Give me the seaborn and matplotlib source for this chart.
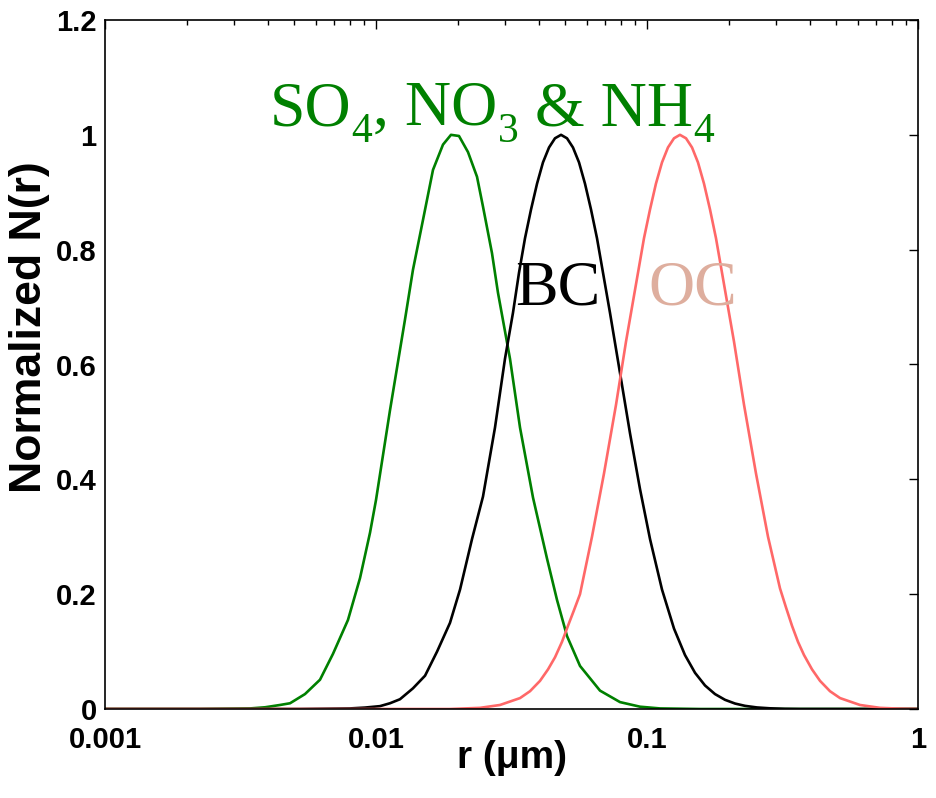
import numpy as np
import pandas as pd
import matplotlib
matplotlib.use("Agg")
import matplotlib.pyplot as plt
from matplotlib.ticker import FixedLocator, LogLocator, NullFormatter, NullLocator
import seaborn as sns

# ---- data ----
green_r = [0.001, 0.002242, 0.003429, 0.003895, 0.004423, 0.004817, 0.005470, 0.006214,
           0.006938, 0.007880, 0.008730, 0.009504, 0.0100, 0.01126, 0.01279, 0.01369,
           0.01491, 0.01623, 0.01767, 0.01891, 0.02024, 0.02185, 0.02359, 0.02482,
           0.02679, 0.02819, 0.03122, 0.03400, 0.03797, 0.04276, 0.04655, 0.05068,
           0.05660, 0.06708, 0.07952, 0.09423, 0.1117, 0.1569, 0.3669, 1.0]
green_n = [0.0, 0.0, 0.001, 0.003, 0.007, 0.010, 0.026, 0.051,
           0.096, 0.155, 0.228, 0.307, 0.364, 0.52, 0.678, 0.765,
           0.852, 0.939, 0.983, 1.0, 0.998, 0.970, 0.927, 0.875,
           0.794, 0.725, 0.61, 0.49, 0.368, 0.262, 0.190, 0.127,
           0.075, 0.032, 0.012, 0.004, 0.001, 0.0, 0.0, 0.0]

black_r = [0.001, 0.005243, 0.008016, 0.009107, 0.01035, 0.01126, 0.01226, 0.01369,
           0.01517, 0.01680, 0.01875, 0.02042, 0.02261, 0.02482, 0.02748, 0.02992,
           0.03202, 0.03371, 0.03547, 0.03733, 0.03929, 0.04132, 0.04350, 0.04576,
           0.04817, 0.05068, 0.05331, 0.05612, 0.05904, 0.06214, 0.06538, 0.06880,
           0.07302, 0.07952, 0.08657, 0.09423, 0.1026, 0.1136, 0.1258, 0.1381,
           0.1504, 0.1637, 0.1782, 0.1940, 0.2113, 0.2299, 0.2546, 0.2843,
           0.3229, 0.3669, 1.0]
black_n = [0.0, 0.0, 0.001, 0.0025, 0.005, 0.010, 0.017, 0.036,
           0.058, 0.10, 0.15, 0.208, 0.296, 0.37, 0.49, 0.61,
           0.69, 0.76, 0.82, 0.87, 0.915, 0.952, 0.978, 0.994,
           1.0, 0.994, 0.978, 0.952, 0.915, 0.87, 0.82, 0.76,
           0.69, 0.585, 0.48, 0.383, 0.296, 0.208, 0.14, 0.094,
           0.063, 0.041, 0.026, 0.016, 0.0095, 0.0055, 0.0027, 0.0012,
           0.0003, 0.0, 0.0]

red_r = [0.001, 0.01226, 0.01875, 0.02420, 0.02868, 0.03400, 0.03701, 0.04029,
         0.04313, 0.04576, 0.04857, 0.05111, 0.05377, 0.05660, 0.06266, 0.06938,
         0.07686, 0.08367, 0.09265, 0.09748, 0.1026, 0.1079, 0.1136, 0.1195,
         0.1258, 0.1323, 0.1393, 0.1466, 0.1542, 0.1623, 0.1708, 0.1797,
         0.1891, 0.2094, 0.2280, 0.2525, 0.2796, 0.3096, 0.3257, 0.3428,
         0.3607, 0.3796, 0.4064, 0.4350, 0.4734, 0.5156, 0.6109, 0.7241,
         0.8582, 1.0]
red_n = [0.0, 0.0, 0.0, 0.002, 0.007, 0.019, 0.031, 0.049,
         0.069, 0.090, 0.117, 0.145, 0.172, 0.20, 0.30, 0.41,
         0.53, 0.64, 0.76, 0.82, 0.87, 0.915, 0.952, 0.978,
         0.994, 1.0, 0.994, 0.978, 0.952, 0.915, 0.87, 0.82,
         0.76, 0.64, 0.53, 0.41, 0.30, 0.21, 0.177, 0.145,
         0.117, 0.094, 0.069, 0.049, 0.031, 0.019, 0.007, 0.002,
         0.0006, 0.0]

x_ticks = [0.001, 0.01, 0.1, 1]
x_tick_labels = ["0.001", "0.01", "0.1", "1"]
y_ticks = [0, 0.2, 0.4, 0.6, 0.8, 1.0, 1.2]
y_tick_labels = ["0", "0.2", "0.4", "0.6", "0.8", "1", "1.2"]

species_label = [("SO", False), ("4", True), (", NO", False), ("3", True),
                 (" & NH", False), ("4", True)]

colors = {"SO4": "#008000", "BC": "#000000", "OC": "#FF6868"}

df = pd.concat([
    pd.DataFrame({"r": green_r, "N": green_n, "species": "SO4"}),
    pd.DataFrame({"r": black_r, "N": black_n, "species": "BC"}),
    pd.DataFrame({"r": red_r, "N": red_n, "species": "OC"}),
], ignore_index=True)

sns.set_theme(style="white")
plt.rcParams["font.family"] = ["Liberation Sans", "DejaVu Sans"]

W, H = 936, 798
fig = plt.figure(figsize=(W / 100, H / 100), dpi=100)
ax = fig.add_axes([105 / W, 1 - 709 / H, (918 - 105) / W, (709 - 20) / H])

sns.lineplot(data=df, x="r", y="N", hue="species", palette=colors,
             estimator=None, sort=False, legend=False, linewidth=1.9, ax=ax)

ax.set_xscale("log")
ax.set_xlim(0.001, 1)
ax.set_ylim(0, 1.2)

ax.xaxis.set_major_locator(FixedLocator(x_ticks))
ax.set_xticklabels(x_tick_labels)
ax.xaxis.set_minor_locator(LogLocator(base=10, subs=np.arange(2, 10)))
ax.xaxis.set_minor_formatter(NullFormatter())
ax.set_yticks(y_ticks)
ax.set_yticklabels(y_tick_labels)
ax.yaxis.set_minor_locator(NullLocator())

ax.tick_params(axis="both", which="both", direction="in", top=True, right=True,
               colors="black", width=1.0)
ax.tick_params(axis="both", which="major", length=6.5)
ax.tick_params(axis="x", which="minor", length=3.5)
ax.tick_params(axis="y", which="major", pad=6)
ax.tick_params(axis="x", which="major", pad=12)
for lab in ax.get_xticklabels() + ax.get_yticklabels():
    lab.set_fontsize(21)
    lab.set_fontweight("bold")
    lab.set_color("black")

for sp in ax.spines.values():
    sp.set_color("black")
    sp.set_linewidth(1.2)

ax.set_xlabel("r (\u03bcm)", fontsize=28, fontweight="bold", color="black")
ax.xaxis.set_label_coords(0.5, -0.045)
ax.set_ylabel("Normalized N(r)", fontsize=32, fontweight="bold", color="black")
ax.yaxis.set_label_coords(-0.068, 0.554)

serif = ["Liberation Serif", "DejaVu Serif"]

# species label with real subscripts, laid out piece by piece
renderer = fig.canvas.get_renderer()
x0, y0 = ax.transData.transform((0.00406, 1.017))
cur_x = x0
for piece, is_sub in species_label:
    size = 30 if is_sub else 46
    yy = y0 - 17 if is_sub else y0
    t = fig.text(cur_x / W, yy / H, piece, fontsize=size, family=serif,
                 color="#008000", ha="left", va="baseline")
    cur_x = t.get_window_extent(renderer).x1 + (1 if is_sub else 0)

ax.text(0.0326, 0.704, "BC", color="black", fontsize=46, family=serif,
        ha="left", va="baseline")
ax.text(0.1009, 0.704, "OC", color="#DEAE9E", fontsize=46, family=serif,
        ha="left", va="baseline")

fig.savefig("out.png", dpi=100)
